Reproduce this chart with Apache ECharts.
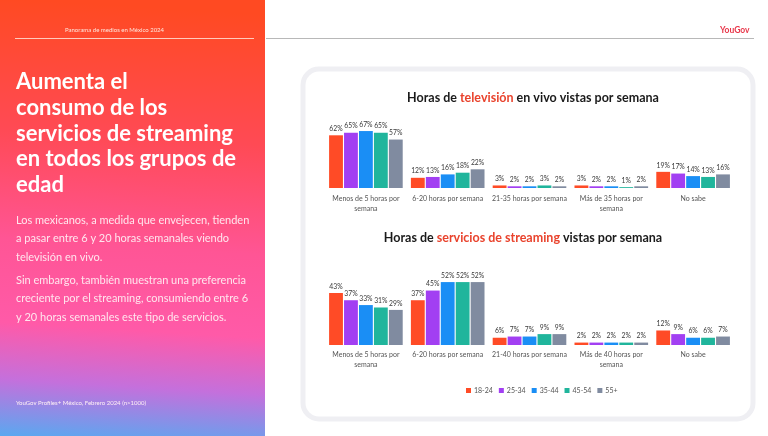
<!DOCTYPE html>
<html>
<head>
<meta charset="utf-8">
<script src="https://cdn.jsdelivr.net/npm/echarts@6/dist/echarts.min.js"></script>
<style>
html,body{margin:0;padding:0;background:#fff;}
#main{width:768px;height:436px;}
</style>
</head>
<body>
<div id="main"></div>
<script>
const ageGroups = ['18-24', '25-34', '35-44', '45-54', '55+'];
const colors = ['#ff4b26', '#a23ff2', '#1a8ef5', '#20b59c', '#808ba0'];

const tvCategories = ['Menos de 5 horas por\nsemana', '6-20 horas por semana', '21-35 horas por semana', 'Más de 35 horas por\nsemana', 'No sabe'];
const tv_18_24 = [62, 12, 3, 3, 19];
const tv_25_34 = [65, 13, 2, 2, 17];
const tv_35_44 = [67, 16, 2, 2, 14];
const tv_45_54 = [65, 18, 3, 1, 13];
const tv_55 = [57, 22, 2, 2, 16];

const stCategories = ['Menos de 5 horas por\nsemana', '6-20 horas por semana', '21-40 horas por semana', 'Más de 40 horas por\nsemana', 'No sabe'];
const st_18_24 = [43, 37, 6, 2, 12];
const st_25_34 = [37, 45, 7, 2, 9];
const st_35_44 = [33, 52, 7, 2, 6];
const st_45_54 = [31, 52, 9, 2, 6];
const st_55 = [29, 52, 9, 2, 7];

const tvData = [tv_18_24, tv_25_34, tv_35_44, tv_45_54, tv_55];
const stData = [st_18_24, st_25_34, st_35_44, st_45_54, st_55];

const FONT = 'Lato, "Open Sans", sans-serif';

function mkSeries(dataSets, idx) {
  return dataSets.map((d, i) => ({
    name: ageGroups[i],
    type: 'bar',
    xAxisIndex: idx,
    yAxisIndex: idx,
    data: d,
    barGap: '8%',
    barCategoryGap: '10%',
    itemStyle: { color: colors[i] },
    label: {
      show: true, position: 'top', distance: 3,
      formatter: '{c}%', fontSize: 6.8, color: '#3a3a3a', fontFamily: FONT
    }
  }));
}

const chart = echarts.init(document.getElementById('main'), null, { renderer: 'canvas' });

const paraStyle = { fill: '#ffe6ee', fontSize: 11, fontFamily: FONT, lineHeight: 18.5 };
const titleRich = {
  b: { color: '#1a1a1a', fontSize: 12.5, fontWeight: 'bold', fontFamily: FONT },
  r: { color: '#e9432d', fontSize: 12.5, fontWeight: 'bold', fontFamily: FONT }
};

chart.setOption({
  animation: false,
  textStyle: { fontFamily: FONT },
  title: [
    { text: '{b|Horas de }{r|televisión}{b| en vivo vistas por semana}', left: 528, top: 86, textAlign: 'center', textStyle: { rich: titleRich } },
    { text: '{b|Horas de }{r|servicios de streaming}{b| vistas por semana}', left: 518, top: 226, textAlign: 'center', textStyle: { rich: titleRich } }
  ],
  graphic: [
    {
      type: 'rect', z: -10, silent: true,
      shape: { x: 0, y: 0, width: 265, height: 436 },
      style: {
        fill: new echarts.graphic.LinearGradient(0.1, 0, 0, 1, [
          { offset: 0, color: '#ff4a22' },
          { offset: 0.3, color: '#ff4a55' },
          { offset: 0.55, color: '#ff5595' },
          { offset: 0.74, color: '#ff5aa8' },
          { offset: 0.87, color: '#c470dc' },
          { offset: 1, color: '#5aa8f0' }
        ])
      }
    },
    { type: 'line', silent: true, shape: { x1: 15, y1: 38.5, x2: 254, y2: 38.5 }, style: { stroke: 'rgba(255,235,225,0.8)', lineWidth: 1 } },
    { type: 'line', silent: true, shape: { x1: 266, y1: 38.5, x2: 754, y2: 38.5 }, style: { stroke: '#b8b8b8', lineWidth: 1 } },
    { type: 'text', silent: true, left: 65, top: 27, style: { text: 'Panorama de medios en México 2024', fill: '#ffe6dc', fontSize: 6, fontFamily: FONT } },
    { type: 'text', silent: true, left: 720, top: 26, style: { text: 'YouGov', fill: '#e8374a', fontSize: 8.5, fontWeight: 'bold', fontFamily: FONT } },
    {
      type: 'text', silent: true, left: 16, top: 69,
      style: {
        text: 'Aumenta el\nconsumo de los\nservicios de streaming\nen todos los grupos de\nedad',
        fill: '#ffffff', fontSize: 22, fontWeight: 'bold', fontFamily: FONT, lineHeight: 25.8
      }
    },
    {
      type: 'text', silent: true, left: 16, top: 211,
      style: Object.assign({ text: 'Los mexicanos, a medida que envejecen, tienden\na pasar entre 6 y 20 horas semanales viendo\ntelevisión en vivo.' }, paraStyle)
    },
    {
      type: 'text', silent: true, left: 16, top: 271,
      style: Object.assign({ text: 'Sin embargo, también muestran una preferencia\ncreciente por el streaming, consumiendo entre 6\ny 20 horas semanales este tipo de servicios.' }, paraStyle)
    },
    { type: 'text', silent: true, left: 16, top: 400, style: { text: 'YouGov Profiles+ México, Febrero 2024 (n>1000)', fill: '#fff0f5', fontSize: 6, fontFamily: FONT } },
    {
      type: 'rect', z: -5, silent: true,
      shape: { x: 303, y: 69, width: 450, height: 350, r: 16 },
      style: { fill: '#ffffff', stroke: '#efeff3', lineWidth: 5 }
    }
  ],
  legend: {
    data: ageGroups,
    left: 461, top: 382,
    itemWidth: 5, itemHeight: 5, itemGap: 6,
    icon: 'rect',
    textStyle: { fontSize: 7, color: '#555', fontFamily: FONT, padding: [0, 0, 0, -2] }
  },
  grid: [
    { left: 325, width: 409, top: 120, height: 68 },
    { left: 325, width: 409, top: 272.4, height: 72.6 }
  ],
  xAxis: [
    {
      type: 'category', gridIndex: 0, data: tvCategories,
      axisLine: { show: false }, axisTick: { show: false },
      axisLabel: { interval: 0, fontSize: 7, color: '#555', margin: 6, lineHeight: 10, fontFamily: FONT }
    },
    {
      type: 'category', gridIndex: 1, data: stCategories,
      axisLine: { show: false }, axisTick: { show: false },
      axisLabel: { interval: 0, fontSize: 7, color: '#555', margin: 5, lineHeight: 10, fontFamily: FONT }
    }
  ],
  yAxis: [
    { type: 'value', gridIndex: 0, min: 0, max: 80, show: false, splitLine: { show: false } },
    { type: 'value', gridIndex: 1, min: 0, max: 60, show: false, splitLine: { show: false } }
  ],
  series: mkSeries(tvData, 0).concat(mkSeries(stData, 1))
});
</script>
</body>
</html>
